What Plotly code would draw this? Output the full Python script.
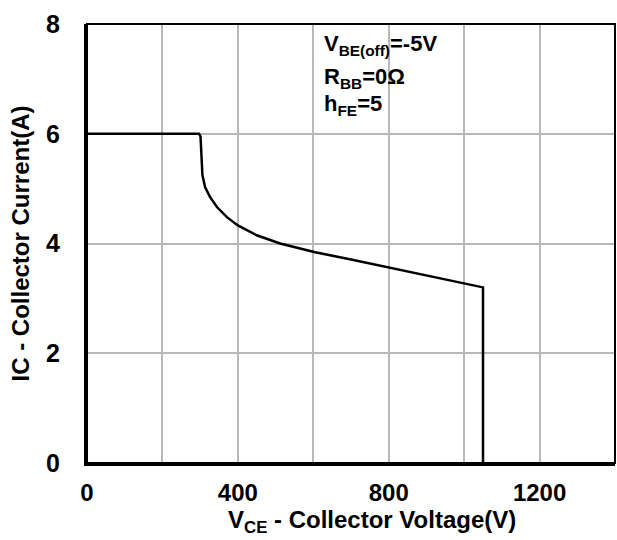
import plotly.graph_objects as go

# Data
vce = [0, 297, 301, 303, 304, 306, 313, 326, 345, 371, 400, 450, 512, 605, 700, 777, 883, 1050, 1050]
ic = [6.0, 6.0, 5.95, 5.7, 5.45, 5.25, 5.03, 4.85, 4.66, 4.48, 4.33, 4.15, 4.0, 3.84, 3.71, 3.6, 3.44, 3.2, 0.0]

x_ticks = [0, 400, 800, 1200]
y_ticks = [0, 2, 4, 6, 8]
notes = ["V<sub>BE(off)</sub>=-5V", "R<sub>BB</sub>=0Ω", "h<sub>FE</sub>=5"]
note_y = [7.62, 7.02, 6.53]
x_title = "V<sub>CE</sub> - Collector Voltage(V)"
y_title = "IC - Collector Current(A)"

FONT = "Liberation Sans, Arial, sans-serif"

fig = go.Figure()
fig.add_trace(go.Scatter(x=vce, y=ic, mode="lines",
                         line=dict(color="black", width=2.5), showlegend=False,
                         hoverinfo="skip"))

for t, yy in zip(notes, note_y):
    fig.add_annotation(x=623, y=yy, xref="x", yref="y", text="<b>" + t + "</b>",
                       showarrow=False, xanchor="left", yanchor="middle",
                       font=dict(family=FONT, size=22, color="black"))

fig.add_annotation(x=0.54, y=-0.173, xref="paper", yref="paper", text="<b>" + x_title + "</b>",
                   showarrow=False, xanchor="center", yanchor="bottom",
                   font=dict(family=FONT, size=24, color="black"))

fig.add_shape(type="rect", xref="paper", yref="paper", x0=0, y0=0, x1=1, y1=1,
              line=dict(color="black", width=2), layer="above")

fig.update_layout(
    width=617, height=540, autosize=False,
    margin=dict(l=87, r=2, t=24, b=77),
    paper_bgcolor="white", plot_bgcolor="white",
    font=dict(family=FONT, color="black"),
    xaxis=dict(range=[0, 1400], tickvals=x_ticks, ticktext=[f"<b>{v}</b>" for v in x_ticks],
               showgrid=True, gridcolor="#b8b8b8", gridwidth=1.5,
               minor=dict(dtick=200, showgrid=True, gridcolor="#b8b8b8", gridwidth=1.5),
               showline=True, linecolor="black", linewidth=3, zeroline=False,
               ticks="", tickfont=dict(size=24, family=FONT), ticklabelstandoff=6),
    yaxis=dict(range=[0, 8], tickvals=y_ticks, ticktext=[f"<b>{v}</b>" for v in y_ticks],
               showgrid=True, gridcolor="#b8b8b8", gridwidth=1.5,
               showline=True, linecolor="black", linewidth=3, zeroline=False,
               ticks="", tickfont=dict(size=25, family=FONT), ticklabelstandoff=19,
               title=dict(text="<b>" + y_title + "</b>",
                          font=dict(size=24, family=FONT), standoff=10)),
)

post = ("document.body.style.margin='0';document.body.style.overflow='hidden';"
        "Plotly.relayout(document.getElementById('{plot_id}'), {width: 617, height: 540});")
fig.write_html("out.html", post_script=post, config={"displayModeBar": False})
